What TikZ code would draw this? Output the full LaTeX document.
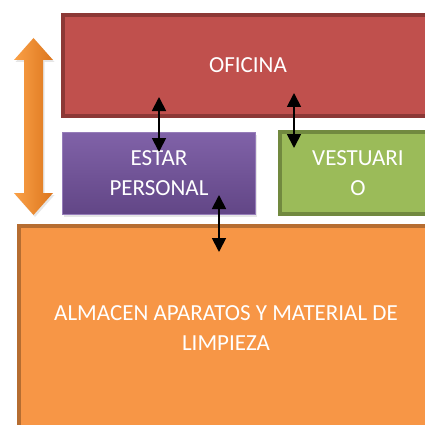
\documentclass[tikz,border=0pt]{standalone}
\usepackage{fontspec}
\setmainfont{Carlito}
\definecolor{oficinared}{RGB}{192, 80, 77}
\definecolor{oficinadark}{RGB}{140, 56, 54}
\definecolor{estartop}{RGB}{128, 98, 168}
\definecolor{estarbot}{RGB}{98, 70, 134}
\definecolor{estarline}{RGB}{150, 125, 185}
\definecolor{vestgreen}{RGB}{155, 187, 89}
\definecolor{vestdark}{RGB}{113, 137, 63}
\definecolor{almorange}{RGB}{247, 150, 70}
\definecolor{almdark}{RGB}{182, 109, 49}
\definecolor{arrlight}{RGB}{250, 160, 70}
\definecolor{arrdark}{RGB}{220, 118, 30}
\usetikzlibrary{arrows.meta, shadows}

\begin{document}
\begin{tikzpicture}[x=1pt, y=-1pt,
    room/.style={draw, line width=4pt, text=white, align=center,
                 font=\fontsize{23}{30}\selectfont, inner sep=0pt,
                 drop shadow={opacity=0.2, shadow xshift=1.5pt, shadow yshift=-2pt}},
    link/.style={{Triangle[length=14pt, width=14pt]}-{Triangle[length=14pt, width=14pt]},
                 line width=1.8pt, black}]
    \useasboundingbox (0,0) rectangle (425,425);
    \clip (0,0) rectangle (425,425);
    % rooms (cut off by the page on the right and bottom)
    \node[room, fill=almorange, draw=almdark, minimum width=414pt, minimum height=204pt]
        (almacen) at (226,328) {ALMACEN APARATOS Y MATERIAL DE\\LIMPIEZA};
    \node[room, fill=oficinared, draw=oficinadark, minimum width=370pt, minimum height=101pt]
        (oficina) at (248,65.5) {OFICINA};
    \node[room, line width=1pt, draw=estarline, top color=estartop, bottom color=estarbot,
          minimum width=193pt, minimum height=82pt]
        (estar) at (159,173.5) {ESTAR\\PERSONAL};
    \node[room, fill=vestgreen, draw=vestdark, minimum width=156pt, minimum height=82pt]
        (vestuario) at (358,173) {VESTUARI\\O};
    % big orange double arrow
    \shade[left color=arrlight, right color=arrdark,
           drop shadow={opacity=0.2, shadow xshift=1.5pt, shadow yshift=-2pt}]
        (33.5,38) -- (53,60) -- (43,60) -- (43,193) -- (53,193) -- (33.5,215)
        -- (14,193) -- (24,193) -- (24,60) -- (14,60) -- cycle;
    % connections
    \coordinate (of1) at (159,97);
    \coordinate (es1) at (159,152);
    \coordinate (of2) at (294,93);
    \coordinate (ve1) at (294,148);
    \coordinate (es2) at (219,195);
    \coordinate (al1) at (219,252);
    \draw[link] (of1) -- (es1);
    \draw[link] (of2) -- (ve1);
    \draw[link] (es2) -- (al1);
\end{tikzpicture}
\end{document}
